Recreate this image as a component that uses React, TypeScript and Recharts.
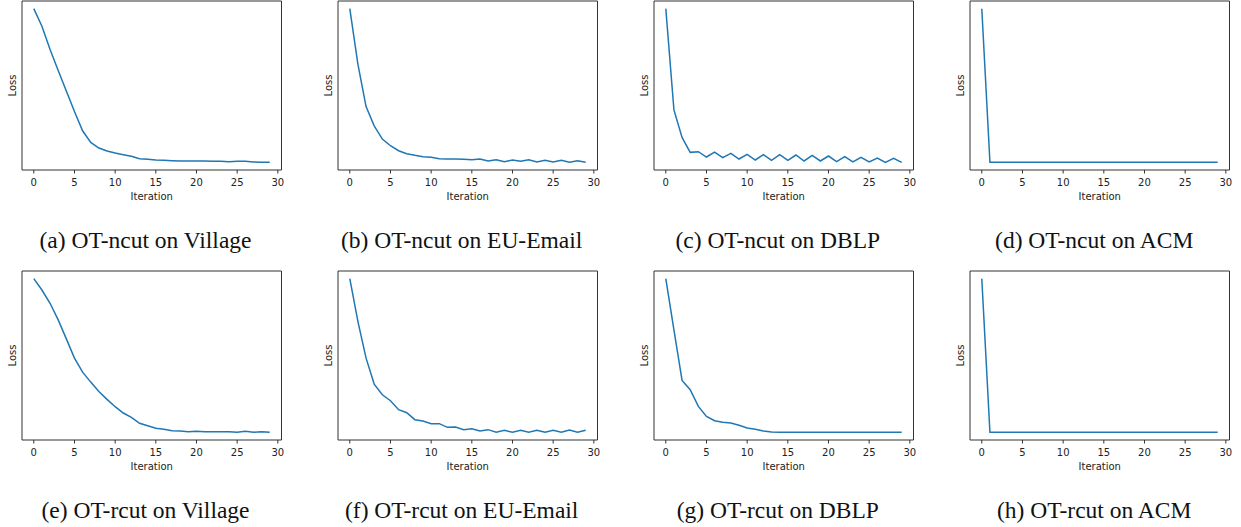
import { LineChart, Line, XAxis, YAxis, ReferenceArea } from "recharts";

// loss per iteration (arbitrary units)
const villageNcut = [4.93, 4.4, 3.7, 3.07, 2.45, 1.83, 1.25, 0.9, 0.73, 0.64, 0.58, 0.53, 0.48, 0.41, 0.39, 0.37, 0.36, 0.35, 0.34, 0.34, 0.34, 0.34, 0.33, 0.33, 0.32, 0.33, 0.33, 0.31, 0.3, 0.3];
const emailNcut = [4.93, 3.25, 1.98, 1.4, 1.0, 0.8, 0.65, 0.56, 0.51, 0.47, 0.45, 0.41, 0.4, 0.4, 0.39, 0.38, 0.4, 0.34, 0.38, 0.32, 0.37, 0.33, 0.38, 0.31, 0.36, 0.31, 0.36, 0.3, 0.35, 0.3];
const dblpNcut = [4.93, 1.88, 1.05, 0.6, 0.62, 0.46, 0.61, 0.44, 0.57, 0.4, 0.54, 0.37, 0.53, 0.36, 0.53, 0.36, 0.52, 0.34, 0.51, 0.34, 0.49, 0.32, 0.47, 0.31, 0.45, 0.31, 0.43, 0.3, 0.42, 0.3];
const acmNcut = [4.93, 0.3, 0.3, 0.3, 0.3, 0.3, 0.3, 0.3, 0.3, 0.3, 0.3, 0.3, 0.3, 0.3, 0.3, 0.3, 0.3, 0.3, 0.3, 0.3, 0.3, 0.3, 0.3, 0.3, 0.3, 0.3, 0.3, 0.3, 0.3, 0.3];

const villageRcut = [4.89, 4.55, 4.15, 3.65, 3.08, 2.5, 2.08, 1.78, 1.5, 1.26, 1.04, 0.85, 0.72, 0.54, 0.47, 0.39, 0.36, 0.32, 0.31, 0.29, 0.3, 0.29, 0.29, 0.29, 0.29, 0.27, 0.3, 0.27, 0.29, 0.27];
const emailRcut = [4.89, 3.6, 2.5, 1.72, 1.4, 1.22, 0.95, 0.86, 0.65, 0.61, 0.53, 0.53, 0.42, 0.43, 0.35, 0.38, 0.31, 0.35, 0.27, 0.33, 0.27, 0.33, 0.27, 0.33, 0.27, 0.33, 0.27, 0.34, 0.27, 0.33];
const dblpRcut = [4.89, 3.35, 1.83, 1.55, 1.05, 0.75, 0.62, 0.57, 0.55, 0.48, 0.4, 0.36, 0.31, 0.28, 0.27, 0.27, 0.27, 0.27, 0.27, 0.27, 0.27, 0.27, 0.27, 0.27, 0.27, 0.27, 0.27, 0.27, 0.27, 0.27];
const acmRcut = [4.89, 0.27, 0.27, 0.27, 0.27, 0.27, 0.27, 0.27, 0.27, 0.27, 0.27, 0.27, 0.27, 0.27, 0.27, 0.27, 0.27, 0.27, 0.27, 0.27, 0.27, 0.27, 0.27, 0.27, 0.27, 0.27, 0.27, 0.27, 0.27, 0.27];

const xTicks = [0, 5, 10, 15, 20, 25, 30];

const topCaptions = ["(a) OT-ncut on Village", "(b) OT-ncut on EU-Email", "(c) OT-ncut on DBLP", "(d) OT-ncut on ACM"];
const bottomCaptions = ["(e) OT-rcut on Village", "(f) OT-rcut on EU-Email", "(g) OT-rcut on DBLP", "(h) OT-rcut on ACM"];

const COL_LEFT = [21.5, 337.7, 653.8, 970.2];
const ROW_TOP = [1, 271];
const CAPTION_BASE = [248, 518];
const BOX_W = 259.5;
const BOX_H = 169;
const YAXIS_W = 19;
const RIGHT_ROOM = 12;
const BOTTOM_ROOM = 5;

const sans = "DejaVu Sans";
const frame = "#333";

function LossPanel({ values, left, top }: { values: number[]; left: number; top: number }) {
  const rows = values.map((loss, i) => ({ iter: i, loss }));
  const lo = Math.min(...values);
  const hi = Math.max(...values);
  const pad = (hi - lo) * 0.05;
  const yDomain = [lo - pad, hi + pad];
  const xDomain = [-1.45, 30.45];

  return (
    <div style={{ position: "absolute", left: left - YAXIS_W, top: top - 1 }}>
      <LineChart
        width={YAXIS_W + BOX_W + RIGHT_ROOM}
        height={1 + BOX_H + 30 + BOTTOM_ROOM}
        data={rows}
        margin={{ top: 1, right: RIGHT_ROOM, bottom: BOTTOM_ROOM, left: 0 }}
      >
        <XAxis
          dataKey="iter"
          type="number"
          domain={xDomain}
          allowDataOverflow
          ticks={xTicks}
          interval={0}
          height={30}
          axisLine={false}
          tickSize={3.5}
          tickMargin={5}
          tickLine={{ stroke: frame }}
          tick={{ fontSize: 10, fill: "#222", fontFamily: sans }}
          label={{ value: "Iteration", position: "insideBottom", offset: 0, fontSize: 10, fill: "#222", fontFamily: sans }}
        />
        <YAxis
          type="number"
          domain={yDomain}
          allowDataOverflow
          width={YAXIS_W}
          tick={false}
          tickLine={false}
          axisLine={false}
          label={{ value: "Loss", angle: -90, position: "center", fontSize: 10, fill: "#222", fontFamily: sans }}
        />
        <ReferenceArea x1={xDomain[0]} x2={xDomain[1]} y1={yDomain[0]} y2={yDomain[1]} fill="none" stroke={frame} strokeWidth={1} />
        <Line type="linear" dataKey="loss" stroke="#1f77b4" strokeWidth={1.5} dot={false} isAnimationActive={false} />
      </LineChart>
    </div>
  );
}

function Caption({ text, center, baseline }: { text: string; center: number; baseline: number }) {
  return (
    <div
      style={{
        position: "absolute",
        left: center - 150,
        top: baseline - 19.5,
        width: 300,
        textAlign: "center",
        fontFamily: "'Liberation Serif', 'Times New Roman', serif",
        fontSize: 23.5,
        lineHeight: "23.5px",
        color: "#111",
        whiteSpace: "nowrap",
      }}
    >
      {text}
    </div>
  );
}

export default function App() {
  const top = [villageNcut, emailNcut, dblpNcut, acmNcut];
  const bottom = [villageRcut, emailRcut, dblpRcut, acmRcut];
  return (
    <div style={{ position: "absolute", left: 0, top: 0, width: 1241, height: 527, background: "#fff", overflow: "hidden" }}>
      {top.map((v, i) => (
        <LossPanel key={"t" + i} values={v} left={COL_LEFT[i]} top={ROW_TOP[0]} />
      ))}
      {bottom.map((v, i) => (
        <LossPanel key={"b" + i} values={v} left={COL_LEFT[i]} top={ROW_TOP[1]} />
      ))}
      {topCaptions.map((c, i) => (
        <Caption key={c} text={c} center={COL_LEFT[i] + 124} baseline={CAPTION_BASE[0]} />
      ))}
      {bottomCaptions.map((c, i) => (
        <Caption key={c} text={c} center={COL_LEFT[i] + 124} baseline={CAPTION_BASE[1]} />
      ))}
    </div>
  );
}
